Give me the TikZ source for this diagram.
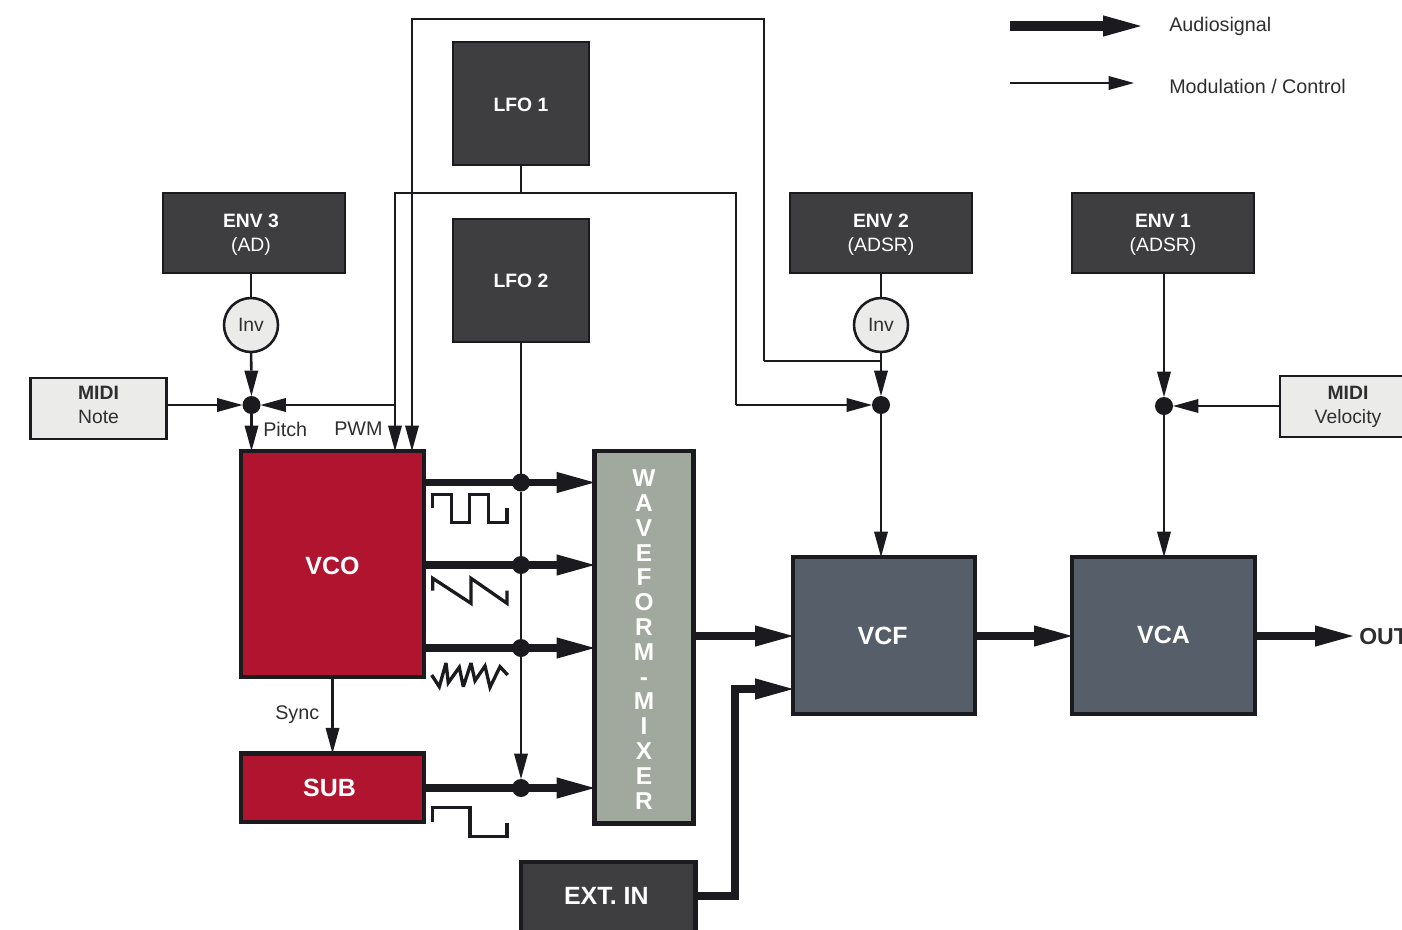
\documentclass[tikz,border=0pt]{standalone}
\usepackage{fontspec}
\setmainfont{Liberation Sans}
\usetikzlibrary{arrows.meta}
\definecolor{ink}{HTML}{1B1A1F}
\definecolor{darkbox}{HTML}{3E3E40}
\definecolor{redbox}{HTML}{B0142E}
\definecolor{greybox}{HTML}{565E69}
\definecolor{mixbox}{HTML}{A1A89E}
\definecolor{lightbox}{HTML}{EBECEA}
\definecolor{txt}{HTML}{2E2E30}
\newcommand{\fs}[2]{\fontsize{#1}{#2}\selectfont}
\newsavebox\nudgebox
\newcommand{\nudge}[2]{\sbox\nudgebox{#2}\raisebox{#1}[\ht\nudgebox][\dp\nudgebox]{\usebox\nudgebox}}
\newcommand{\twolines}[2]{\begin{tabular}{@{}c@{}}#1\\#2\end{tabular}}
\tikzset{
  x=0.75pt,y=-0.75pt,
  sz/.style 2 args={minimum width=#1*0.75pt,minimum height=#2*0.75pt,inner sep=0pt,outer sep=0pt},
  thinhead/.tip={Triangle[length=19pt,width=10.5pt,sharp,line width=0pt]},
  thickhead/.tip={Triangle[length=28.5pt,width=16pt,sharp,line width=0pt]},
  modline/.style={draw=ink,line width=1.9pt,line join=miter},
  modarrow/.style={modline,-{thinhead}},
  audioline/.style={draw=ink,line width=5.5pt,line join=miter},
  audioarrow/.style={audioline,-{thickhead}},
  darkcell/.style={draw=ink,line width=2pt,fill=darkbox,text=white,align=center,font=\fs{14.5}{18}},
  heavycell/.style={draw=ink,line width=3.4pt,text=white,font=\bfseries\fs{18.7}{22}},
  lightcell/.style={draw=ink,line width=2pt,fill=lightbox,text=txt,align=center,font=\fs{14.5}{18}},
  invcell/.style={circle,draw=ink,line width=1.9pt,fill=lightbox,text=txt,font=\fs{14.5}{18},minimum size=40.5pt,inner sep=0pt,outer sep=0pt},
  dotcell/.style={circle,fill=ink,minimum size=13.5pt,inner sep=0pt,outer sep=0pt},
  label/.style={text=txt,font=\fs{14.8}{18},inner sep=0pt,anchor=west},
  wave/.style={draw=ink,line width=2.5pt,line join=miter,fill=none},
}
\begin{document}
\begin{tikzpicture}
\useasboundingbox (0,0) rectangle (1402,929);
% boxes
\node[darkcell,sz={136}{123}] (lfoa) at (521,103.5) {\nudge{-0.75pt}{\textbf{LFO 1}}};
\node[darkcell,sz={136}{123}] (lfob) at (521,280.5) {\textbf{LFO 2}};
\node[darkcell,sz={182}{80}] (enva) at (1163,233) {\nudge{-1.5pt}{\twolines{\textbf{ENV 1}}{(ADSR)}}};
\node[darkcell,sz={182}{80}] (envb) at (881,233) {\nudge{-1.5pt}{\twolines{\textbf{ENV 2}}{(ADSR)}}};
\node[darkcell,sz={182}{80}] (envc) at (254,233) {\nudge{-1.5pt}{\twolines{\textbf{ENV 3}}{(AD)}}\hspace*{4.5pt}};
\node[invcell] (invc) at (251,325) {Inv};
\node[invcell] (invb) at (881,325) {Inv};
\node[lightcell,sz={136}{61}] (note) at (98.5,408.5) {\nudge{1.5pt}{\twolines{\textbf{MIDI}}{Note}}};
\node[lightcell,sz={136}{61}] (velo) at (1348,406.5) {\twolines{\textbf{MIDI}}{Velocity}};
\node[heavycell,fill=redbox,sz={183}{226}] (vco) at (332.5,564) {\nudge{-1.5pt}{VCO}};
\node[heavycell,fill=redbox,sz={183}{68.7}] (sub) at (332.5,787.6) {\hspace*{-4.5pt}SUB};
\node[heavycell,fill=mixbox,sz={99}{372.5}] (mix) at (644,637.3) {\nudge{-4.2pt}{\fs{18.3}{18.6}\begin{tabular}{@{}c@{}}W\\A\\V\\E\\F\\O\\R\\M\\-\\M\\I\\X\\E\\R\end{tabular}}};
\node[heavycell,fill=greybox,sz={182}{157}] (vcf) at (884,635.5) {\hspace*{-2pt}VCF};
\node[heavycell,fill=greybox,sz={183}{157}] (vca) at (1163.5,635.5) {\nudge{0.75pt}{VCA}};
\node[heavycell,fill=darkbox,sz={174.5}{74}] (ext) at (608.3,899) {\hspace*{-3pt}\nudge{2.25pt}{EXT. IN}};
% junction dots
\node[dotcell] (jc) at (251.5,405) {};
\node[dotcell] (jb) at (881,405) {};
\node[dotcell] (ja) at (1164,406) {};
\node[dotcell] (da) at (521,482.5) {};
\node[dotcell] (db) at (521,565) {};
\node[dotcell] (dc) at (521,648) {};
\node[dotcell] (dd) at (521,788) {};
% routing coordinates
\coordinate (pwmbus) at (395,193);
\coordinate (pwmtap) at (395,405);
\coordinate (lfotap) at (521,193);
\coordinate (filtbus) at (736,193);
\coordinate (filtdrop) at (736,405);
\coordinate (syncb) at (412,19);
\coordinate (syncc) at (764,19);
\coordinate (syncd) at (764,361);
\coordinate (synce) at (881,361);
\coordinate (extb) at (735,896);
\coordinate (extc) at (735,689);
\coordinate (exte) at (793,689);
\coordinate (outend) at (1353,636);
% modulation
\draw[modline] (envc.south -| invc) -- (invc);
\draw[modline] (envb.south -| invb) -- (invb);
\draw[modarrow] (invc) -- (jc);
\draw[modarrow] (note.east |- jc) -- (jc);
\draw[modarrow] (pwmtap) -- (jc);
\draw[modarrow] (jc) -- (jc |- vco.north);
\draw[modline] (lfoa) -- (lfotap);
\draw[modline] (pwmtap) -- (pwmbus) -- (filtbus) -- (filtdrop);
\draw[modarrow] (filtdrop) -- (jb);
\draw[modarrow] (pwmtap) -- (pwmtap |- vco.north);
\draw[modarrow] (syncd) -- (syncc) -- (syncb) -- (syncb |- vco.north);
\draw[modline] (syncd) -- (synce);
\draw[modarrow] (invb) -- (jb);
\draw[modarrow] (jb) -- (jb |- vcf.north);
\draw[modarrow] (enva.south -| ja) -- (ja);
\draw[modarrow] (velo.west |- ja) -- (ja);
\draw[modarrow] (ja) -- (ja |- vca.north);
\draw[modline] (lfob) -- (da);
\draw[modline] (da) -- (db);
\draw[modline] (db) -- (dc);
\draw[modarrow] (dc) -- (dd);
\draw[modarrow] (vco.south) -- (sub.north);
% audio
\draw[audioarrow] (vco.east |- da) -- (mix.west |- da);
\draw[audioarrow] (vco.east |- db) -- (mix.west |- db);
\draw[audioarrow] (vco.east |- dc) -- (mix.west |- dc);
\draw[audioarrow] (sub.east |- dd) -- (mix.west |- dd);
\draw[audioarrow] (mix.east |- outend) -- (vcf.west |- outend);
\draw[audioarrow] (vcf.east |- outend) -- (vca.west |- outend);
\draw[audioarrow] (vca.east |- outend) -- (outend);
\draw[audioarrow] (ext.east |- extb) -- (extb) -- (extc) -- (exte);
% waveforms
\draw[wave] (432.7,508) -- (432.7,494.3) -- (451.3,494.3) -- (451.3,522.7) -- (469.3,522.7) -- (469.3,494.3) -- (488.3,494.3) -- (488.3,522.7) -- (507,522.7) -- (507,508);
\draw[wave] (432.7,590.7) -- (432.7,578.3) -- (471,603.3) -- (471,578.3) -- (507,603.3) -- (507,590.7);
\draw[wave,miter limit=3] (431.7,675) -- (439.3,686.7) -- (446,663) -- (448.3,682.7) -- (459.3,667.3) -- (463.3,686.7) -- (471,663) -- (475,680.7) -- (485,666) -- (490,687.3) -- (500,666.7) -- (507.7,675);
\draw[wave] (432.7,821.7) -- (432.7,807.7) -- (470,807.7) -- (470,836.7) -- (507,836.7) -- (507,822.7);
% labels
\node[label] (pitch) at (263,429) {Pitch};
\node[label] (pwm) at (334,429) {PWM};
\node[label] (sync) at (275,715) {Sync};
\node[label,font=\bfseries\fs{17.3}{20}] (outlbl) at (1359,637) {OUT};
% legend
\coordinate (lga) at (1010,26);
\coordinate (lgb) at (1141,26);
\coordinate (lgc) at (1010,83);
\coordinate (lgd) at (1134,83);
\draw[draw=ink,line width=7.5pt,-{thickhead}] (lga) -- (lgb);
\draw[modarrow] (lgc) -- (lgd);
\node[label] (lga-t) at (1169,26) {Audiosignal};
\node[label] (lgc-t) at (1169,86) {Modulation / Control};
\end{tikzpicture}
\end{document}
